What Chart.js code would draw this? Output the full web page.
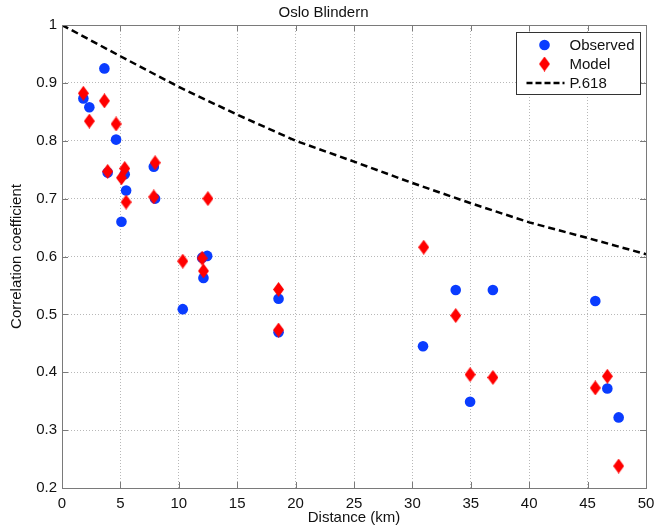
<!DOCTYPE html>
<html>
<head>
<meta charset="utf-8">
<script src="https://cdn.jsdelivr.net/npm/chart.js@4/dist/chart.umd.min.js"></script>
<style>
  html, body { margin: 0; padding: 0; background: #fff; }
  #wrap { width: 654px; height: 529px; }
</style>
</head>
<body>
<div id="wrap"><canvas id="c" width="654" height="529"></canvas></div>
<script>
// ---- data ----
const chartTitle = 'Oslo Blindern';
const xTitle = 'Distance (km)';
const yTitle = 'Correlation coefficient';

const obsDist = [1.83, 2.34, 3.63, 3.91, 4.63, 5.09, 5.37, 5.49, 7.86, 7.97, 10.34, 12.0, 12.11, 12.43, 18.54, 18.54, 30.91, 33.71, 34.94, 36.89, 45.66, 46.69, 47.66];
const obsCorr = [0.873, 0.858, 0.925, 0.745, 0.802, 0.660, 0.742, 0.714, 0.755, 0.700, 0.509, 0.598, 0.563, 0.601, 0.527, 0.469, 0.445, 0.542, 0.349, 0.542, 0.523, 0.372, 0.322];

const modelDist = [1.83, 2.34, 3.63, 3.91, 4.63, 5.09, 5.37, 5.49, 7.97, 7.86, 10.34, 12.0, 12.11, 12.49, 18.54, 18.54, 30.97, 33.71, 34.94, 36.89, 45.66, 46.69, 47.66];
const modelCorr = [0.882, 0.834, 0.869, 0.747, 0.829, 0.736, 0.752, 0.694, 0.762, 0.703, 0.592, 0.597, 0.575, 0.700, 0.543, 0.473, 0.616, 0.498, 0.396, 0.391, 0.373, 0.393, 0.238];

const p618Dist = [0, 5, 10, 15, 20, 25, 30, 35, 40, 45, 50];
const p618Corr = [1.0, 0.946, 0.893, 0.845, 0.800, 0.764, 0.727, 0.692, 0.659, 0.632, 0.604];

const xTicks = [0, 5, 10, 15, 20, 25, 30, 35, 40, 45, 50];
const yTicks = [0.2, 0.3, 0.4, 0.5, 0.6, 0.7, 0.8, 0.9, 1];
const seriesNames = ['Observed', 'Model', 'P.618'];

// ---- styling ----
const FONT = "'Liberation Sans', Arial, Helvetica, sans-serif";
const BLUE = '#0a3cff';
const RED = '#ff0000';
const FRAME = '#7a7a7a';

function makeDiamond(w, h, color) {
  const c = document.createElement('canvas');
  c.width = w; c.height = h;
  const g = c.getContext('2d');
  g.fillStyle = color;
  g.beginPath();
  g.moveTo(w / 2, 0); g.lineTo(w, h / 2); g.lineTo(w / 2, h); g.lineTo(0, h / 2);
  g.closePath(); g.fill();
  return c;
}
const diamond = makeDiamond(11, 15, RED);

const toPts = (xs, ys) => xs.map((x, i) => ({ x: x, y: ys[i] }));

const frameTicks = {
  id: 'frameTicks',
  afterDraw(chart) {
    const { ctx, chartArea: a } = chart;
    const xs = chart.scales.x, ys = chart.scales.y;
    ctx.save();
    ctx.strokeStyle = FRAME;
    ctx.lineWidth = 1;
    ctx.setLineDash([]);
    ctx.strokeRect(Math.round(a.left) + 0.5, Math.round(a.top) + 0.5,
                   Math.round(a.right - a.left), Math.round(a.bottom - a.top));
    const L = 6;
    ctx.beginPath();
    xTicks.forEach(v => {
      const px = Math.round(xs.getPixelForValue(v)) + 0.5;
      ctx.moveTo(px, a.bottom); ctx.lineTo(px, a.bottom - L);
      ctx.moveTo(px, a.top); ctx.lineTo(px, a.top + L);
    });
    yTicks.forEach(v => {
      const py = Math.round(ys.getPixelForValue(v)) + 0.5;
      ctx.moveTo(a.left, py); ctx.lineTo(a.left + L, py);
      ctx.moveTo(a.right, py); ctx.lineTo(a.right - L, py);
    });
    ctx.stroke();

    // legend box
    const bw = 124, bh = 62;
    const bx = Math.round(a.right - 6 - bw) + 0.5, by = Math.round(a.top + 7) + 0.5;
    ctx.fillStyle = '#fff';
    ctx.fillRect(bx, by, bw, bh);
    ctx.strokeStyle = '#333';
    ctx.strokeRect(bx, by, bw, bh);
    const rows = [by + 12.5, by + 31.5, by + 50.5];
    const mx = bx + 28;
    ctx.fillStyle = BLUE;
    ctx.beginPath(); ctx.arc(mx, rows[0], 5.3, 0, Math.PI * 2); ctx.fill();
    ctx.drawImage(diamond, mx - diamond.width / 2, rows[1] - diamond.height / 2);
    ctx.strokeStyle = '#000';
    ctx.lineWidth = 2.5;
    ctx.setLineDash([6, 3]);
    ctx.beginPath(); ctx.moveTo(bx + 10, rows[2]); ctx.lineTo(bx + 48, rows[2]); ctx.stroke();
    ctx.setLineDash([]);
    ctx.fillStyle = '#111';
    ctx.font = '15px ' + FONT;
    ctx.textAlign = 'left';
    ctx.textBaseline = 'middle';
    seriesNames.forEach((n, i) => ctx.fillText(n, bx + 53, rows[i] + 1));
    ctx.restore();
  }
};

new Chart(document.getElementById('c'), {
  type: 'scatter',
  data: {
    datasets: [
      {
        label: seriesNames[0],
        data: toPts(obsDist, obsCorr),
        pointStyle: 'circle',
        pointRadius: 5.3,
        pointHoverRadius: 5.3,
        backgroundColor: BLUE,
        borderColor: BLUE,
        borderWidth: 0,
        order: 3
      },
      {
        label: seriesNames[1],
        data: toPts(modelDist, modelCorr),
        pointStyle: diamond,
        pointRadius: 7,
        backgroundColor: RED,
        borderColor: RED,
        order: 2
      },
      {
        type: 'line',
        label: seriesNames[2],
        data: toPts(p618Dist, p618Corr),
        showLine: true,
        pointRadius: 0,
        borderColor: '#000',
        borderWidth: 2.5,
        borderDash: [7, 4],
        fill: false,
        tension: 0,
        order: 1
      }
    ]
  },
  options: {
    responsive: false,
    animation: false,
    events: [],
    layout: { padding: { left: 0, right: 7, top: 0, bottom: 0 } },
    plugins: {
      legend: { display: false },
      tooltip: { enabled: false },
      title: {
        display: true,
        text: chartTitle,
        color: '#111',
        font: { family: FONT, size: 15, weight: 'normal', lineHeight: 1.2 },
        padding: { top: 4, bottom: 3 }
      }
    },
    scales: {
      x: {
        type: 'linear',
        min: 0, max: 50,
        afterBuildTicks: s => { s.ticks = xTicks.map(v => ({ value: v })); },
        afterFit: s => { s.height = 41; s.paddingRight = 0; s.paddingLeft = 0; },
        ticks: {
          color: '#111',
          font: { family: FONT, size: 15 },
          padding: 7,
          maxRotation: 0,
          autoSkip: false,
          callback: v => String(v)
        },
        grid: { color: '#b8b8b8', lineWidth: 1, drawTicks: false },
        border: { display: false, dash: [1, 2] },
        title: {
          display: true,
          text: xTitle,
          color: '#111',
          font: { family: FONT, size: 15, lineHeight: 1.2 },
          padding: { top: 0, bottom: 2 }
        }
      },
      y: {
        type: 'linear',
        min: 0.2, max: 1,
        afterBuildTicks: s => { s.ticks = yTicks.map(v => ({ value: v })); },
        afterFit: s => { s.width = 62; s.paddingTop = 0; s.paddingBottom = 0; },
        ticks: {
          color: '#111',
          font: { family: FONT, size: 15 },
          padding: 5,
          autoSkip: false,
          callback: v => String(Math.round(v * 10) / 10)
        },
        grid: { color: '#b8b8b8', lineWidth: 1, drawTicks: false },
        border: { display: false, dash: [1, 2] },
        title: {
          display: true,
          text: yTitle,
          color: '#111',
          font: { family: FONT, size: 15, lineHeight: 1.2 },
          padding: { top: 8, bottom: 0 }
        }
      }
    }
  },
  plugins: [frameTicks]
});
</script>
</body>
</html>
